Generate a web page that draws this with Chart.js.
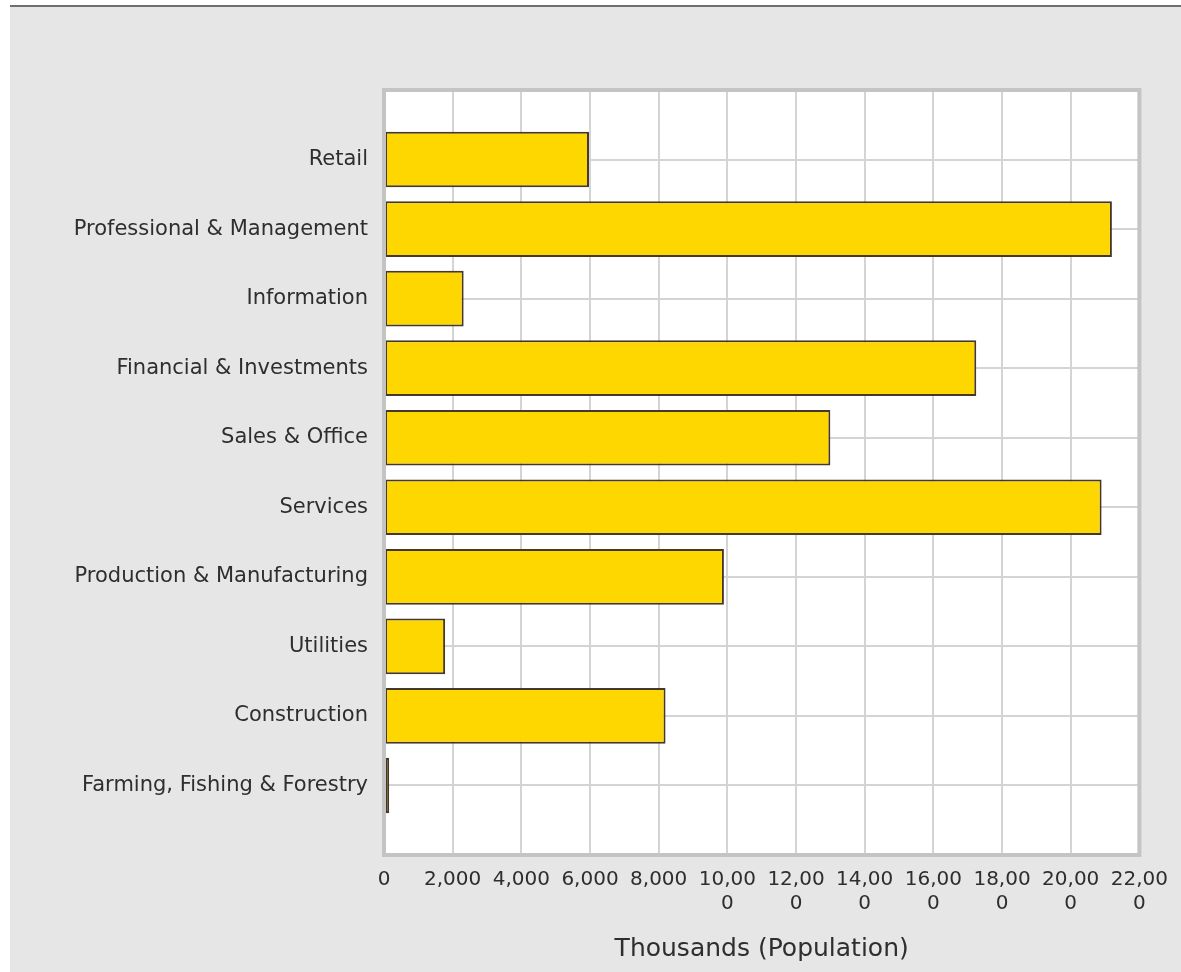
<!DOCTYPE html>
<html>
<head>
<meta charset="utf-8">
<script src="https://cdn.jsdelivr.net/npm/chart.js@4/dist/chart.umd.min.js"></script>
<style>
    html, body { margin: 0; padding: 0; background: #fff; }
    #panel {
        position: absolute; left: 10px; top: 5px; width: 1171px; height: 965px;
        background: #e6e6e6; border-top: 2px solid #6e6e6e;
    }
    #wrap { position: absolute; left: 0; top: 0; width: 1181px; height: 972px; }
</style>
</head>
<body>
<div id="panel"></div>
<div id="wrap"><canvas id="chart"></canvas></div>
<script>
    /* --- Data --- */
    var categories = [
        "Retail",
        "Professional & Management",
        "Information",
        "Financial & Investments",
        "Sales & Office",
        "Services",
        "Production & Manufacturing",
        "Utilities",
        "Construction",
        "Farming, Fishing & Forestry"
    ];
    var population = [5970, 21200, 2320, 17250, 13000, 20900, 9900, 1780, 8200, 150];
    var xTicks = [0, 2000, 4000, 6000, 8000, 10000, 12000, 14000, 16000, 18000, 20000, 22000];
    var axisTitle = "Thousands (Population)";

    // empty slot above and below so the bars sit on the inner grid lines
    var labels = [""].concat(categories, [""]);
    var values = [null].concat(population, [null]);

    var FONT = "'DejaVu Sans', Verdana, sans-serif";
    var TEXT = "#2e2e2e";

    /* --- Plot frame and white background --- */
    var framePlugin = {
        id: "frame",
        beforeDraw: function (chart) {
            var a = chart.chartArea, ctx = chart.ctx;
            ctx.save();
            ctx.fillStyle = "#ffffff";
            ctx.fillRect(a.left, a.top, a.right - a.left, a.bottom - a.top);
            ctx.restore();
        },
        afterDatasetsDraw: function (chart) {
            var a = chart.chartArea, ctx = chart.ctx;
            ctx.save();
            ctx.strokeStyle = "#c4c4c4";
            ctx.lineWidth = 4;
            ctx.strokeRect(a.left, a.top, a.right - a.left, a.bottom - a.top);
            ctx.restore();
        }
    };

    function fmt(v) {
        var s = Number(v).toLocaleString("en-US");
        if (s.length > 5) return [s.slice(0, 5), s.slice(5)];
        return s;
    }

    new Chart(document.getElementById("chart"), {
        type: "bar",
        data: {
            labels: labels,
            datasets: [{
                data: values,
                backgroundColor: "#ffd700",
                borderColor: "#45372a",
                borderWidth: 2,
                borderSkipped: false,
                barPercentage: 0.8,
                categoryPercentage: 1
            }]
        },
        options: {
            indexAxis: "y",
            responsive: true,
            maintainAspectRatio: false,
            animation: false,
            layout: { padding: { top: 90, right: 36, left: 0, bottom: 0 } },
            plugins: { legend: { display: false }, tooltip: { enabled: false } },
            scales: {
                x: {
                    min: 0,
                    max: 22000,
                    afterBuildTicks: function (scale) {
                        scale.ticks = xTicks.map(function (v) { return { value: v }; });
                    },
                    afterFit: function (scale) { scale.height = 117; },
                    ticks: {
                        callback: function (v) { return fmt(v); },
                        color: TEXT,
                        font: { family: FONT, size: 20 },
                        padding: 13,
                        maxRotation: 0,
                        autoSkip: false
                    },
                    grid: { color: "#d4d4d4", lineWidth: 2, drawTicks: false },
                    border: { display: false },
                    title: {
                        display: true,
                        text: axisTitle,
                        color: TEXT,
                        font: { family: FONT, size: 25 },
                        padding: { top: 0, bottom: 8 }
                    }
                },
                y: {
                    offset: false,
                    afterFit: function (scale) { scale.width = 384; },
                    ticks: {
                        color: TEXT,
                        font: { family: FONT, size: 21 },
                        padding: 16,
                        autoSkip: false
                    },
                    grid: { color: "#d4d4d4", lineWidth: 2, drawTicks: false, offset: false },
                    border: { display: false }
                }
            }
        },
        plugins: [framePlugin]
    });
</script>
</body>
</html>
